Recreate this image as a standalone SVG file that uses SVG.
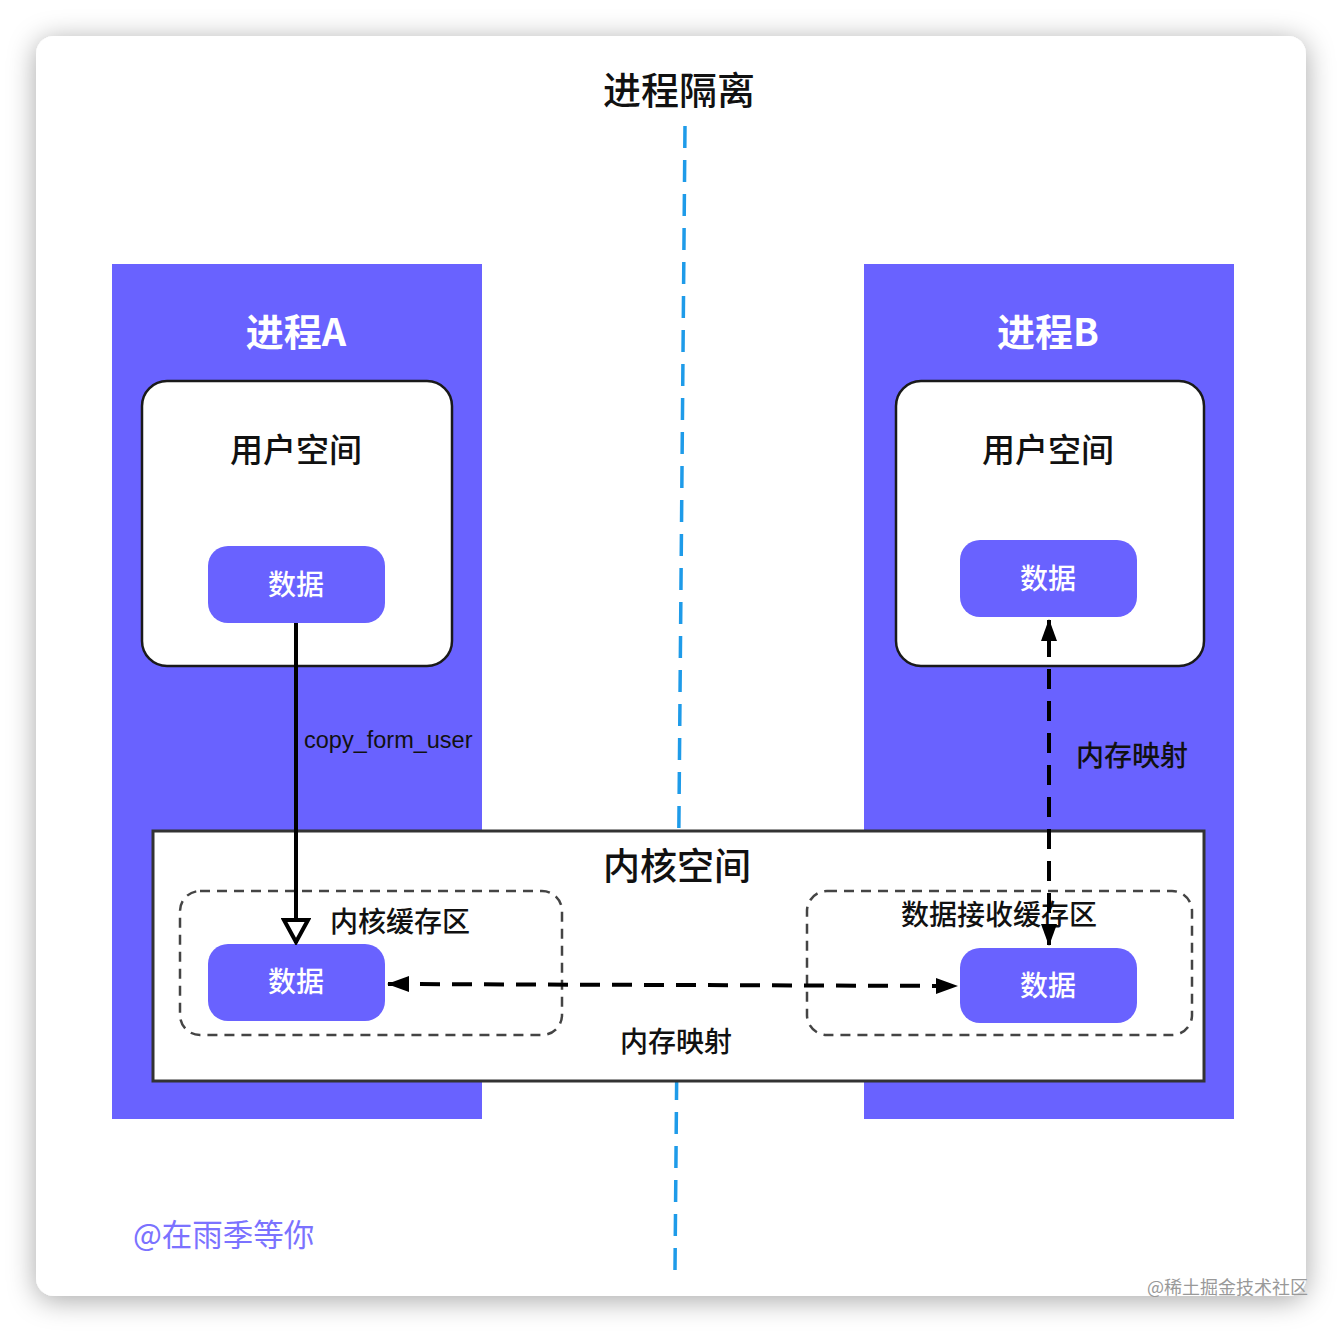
<svg xmlns="http://www.w3.org/2000/svg" width="1342" height="1332" viewBox="0 0 1342 1332">
<defs>
<filter id="sh" x="-10%" y="-10%" width="120%" height="120%">
<feDropShadow dx="0" dy="4" stdDeviation="14" flood-color="#000" flood-opacity="0.35"/>
</filter>
<marker id="hollow" viewBox="0 0 28 30" refX="26" refY="15" markerWidth="28" markerHeight="30" markerUnits="userSpaceOnUse" orient="auto">
<path d="M3,3 L25,15 L3,27 Z" fill="#fff" stroke="#000" stroke-width="4" stroke-linejoin="miter"/>
</marker>
<marker id="fill" viewBox="0 0 22 18" refX="21" refY="9" markerWidth="22" markerHeight="18" markerUnits="userSpaceOnUse" orient="auto-start-reverse">
<path d="M0,1 L22,9 L0,17 Z" fill="#000"/>
</marker>
<style>
.proc{fill:#6962FF}
.ptitle{font-family:"Noto Sans CJK SC","Liberation Sans",sans-serif;font-size:38px;font-weight:bold;fill:#fff;text-anchor:middle}
.user{fill:#fff;stroke:#1a1a1a;stroke-width:2.5}
.lbl{font-family:"Noto Sans CJK SC","Liberation Sans",sans-serif;fill:#111;text-anchor:middle;font-weight:500}
.data{fill:#6962FF}
.dtxt{font-family:"Noto Sans CJK SC",sans-serif;font-size:28px;fill:#fff;text-anchor:middle;font-weight:500}
.grp{fill:none;stroke:#444;stroke-width:2.5;stroke-dasharray:10 7}
.conn{fill:none;stroke:#000;stroke-width:4}
.dash{stroke-dasharray:20 12}
</style>
</defs>
<rect x="0" y="0" width="1342" height="1332" fill="#fff"/>
<rect x="36" y="36" width="1270" height="1260" rx="18" fill="#fff" filter="url(#sh)"/>
<text x="679" y="104" class="lbl" font-size="38">进程隔离</text>
<line x1="685" y1="126" x2="675" y2="1270" stroke="#1E9BE9" stroke-width="3.5" stroke-dasharray="22 12"/>
<g id="procA">
<rect x="112" y="264" width="370" height="855" class="proc"/>
<text x="296" y="346" class="ptitle">进程A</text>
</g>
<g id="procB">
<rect x="864" y="264" width="370" height="855" class="proc"/>
<text x="1048" y="346" class="ptitle">进程B</text>
</g>
<g id="userA">
<rect x="142" y="381" width="310" height="285" rx="25" class="user"/>
<text x="296" y="462" class="lbl" font-size="33">用户空间</text>
</g>
<g id="userB">
<rect x="896" y="381" width="308" height="285" rx="25" class="user"/>
<text x="1048" y="462" class="lbl" font-size="33">用户空间</text>
</g>
<g id="dataA">
<rect x="208" y="546" width="177" height="77" rx="20" class="data"/>
<text x="296" y="595" class="dtxt">数据</text>
</g>
<g id="dataB">
<rect x="960" y="540" width="177" height="77" rx="20" class="data"/>
<text x="1048" y="589" class="dtxt">数据</text>
</g>
<g id="kernel">
<rect x="153" y="831" width="1051" height="250" fill="#fff" stroke="#333" stroke-width="3"/>
<text x="677" y="880" class="lbl" font-size="37">内核空间</text>
</g>
<g id="kbufA">
<rect x="180" y="891" width="382" height="144" rx="20" class="grp"/>
<text x="400" y="932" class="lbl" font-size="28">内核缓存区</text>
</g>
<g id="kbufB">
<rect x="807" y="891" width="385" height="144" rx="20" class="grp"/>
<text x="999" y="925" class="lbl" font-size="28">数据接收缓存区</text>
</g>
<g id="kdataA">
<rect x="208" y="944" width="177" height="77" rx="20" class="data"/>
<text x="296" y="992" class="dtxt">数据</text>
</g>
<g id="kdataB">
<rect x="960" y="948" width="177" height="75" rx="20" class="data"/>
<text x="1048" y="996" class="dtxt">数据</text>
</g>
<g id="connectors">
<line x1="296" y1="623" x2="296" y2="943" class="conn" marker-end="url(#hollow)"/>
<text x="304" y="748" font-family="Liberation Sans, Arial, sans-serif" font-size="23.5" fill="#111">copy_form_user</text>
<line x1="1049" y1="945" x2="1049" y2="620" class="conn dash" marker-start="url(#fill)" marker-end="url(#fill)"/>
<text x="1132" y="766" class="lbl" font-size="28">内存映射</text>
<line x1="388" y1="984" x2="957" y2="986" class="conn dash" marker-start="url(#fill)" marker-end="url(#fill)"/>
<text x="676" y="1052" class="lbl" font-size="28">内存映射</text>
</g>
<text x="133" y="1246" font-family="Noto Sans CJK SC, sans-serif" font-size="30.5" fill="#7B72FF">@在雨季等你</text>
<text x="1308" y="1294" text-anchor="end" font-family="Noto Sans CJK SC, sans-serif" font-size="18" fill="#999">@稀土掘金技术社区</text>
</svg>
